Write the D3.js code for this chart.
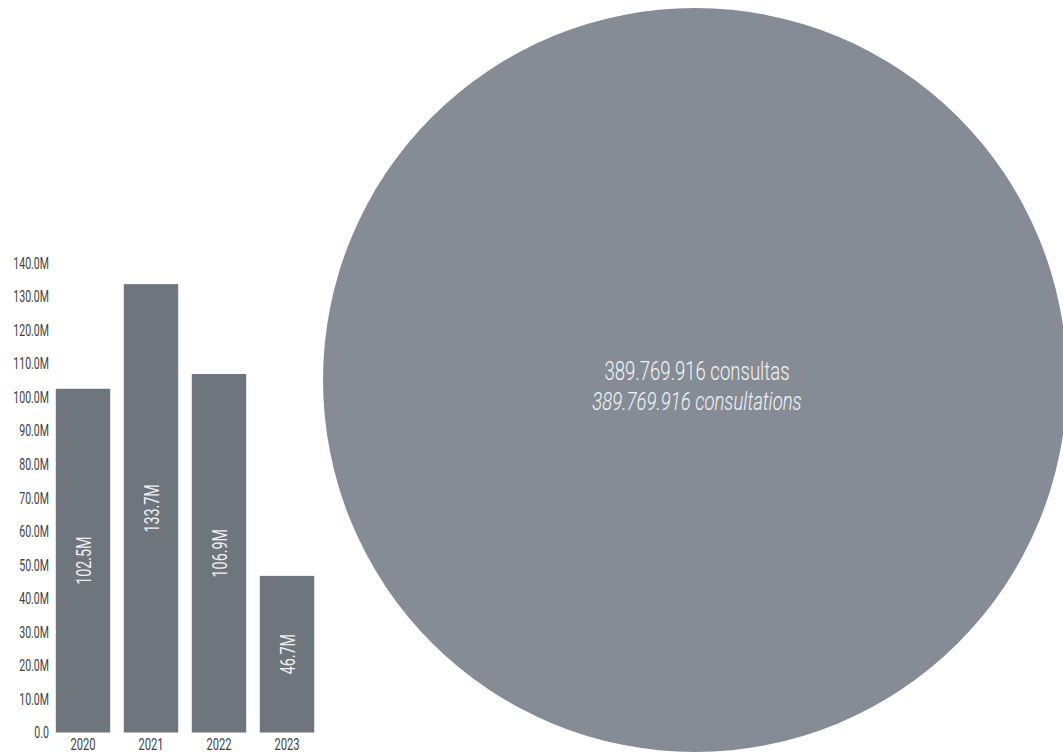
<!DOCTYPE html>
<html><head><meta charset="utf-8">
<script src="https://cdn.jsdelivr.net/npm/d3@7"></script>
<style>
html,body{margin:0;padding:0;background:#fff;}
svg{display:block;font-family:Roboto,"Liberation Sans",sans-serif;}
</style></head>
<body>
<svg id="c" width="1063" height="756"></svg>
<script>
const years = ["2020","2021","2022","2023"];
const values = [102.5, 133.7, 106.9, 46.7];
const valueLabels = ["102.5M","133.7M","106.9M","46.7M"];
const yTicks = [0,10,20,30,40,50,60,70,80,90,100,110,120,130,140];
const totalValue = [389769916];
const totalLines = ["389.769.916 consultas", "389.769.916 consultations"];

const svg = d3.select("#c");
const x = d3.scaleBand().domain(years).range([49, 321]).paddingInner(0.2).paddingOuter(0.1);
const y = d3.scaleLinear().domain([0,140]).range([732.5, 263]);

// circle
const rScale = d3.scaleSqrt().domain([0, totalValue[0]]).range([0, 372]);
const cg = svg.append("g");
cg.selectAll("circle").data(totalValue).join("circle")
  .attr("cx", 695).attr("cy", 380).attr("r", d => rScale(d)).attr("fill", "#868c95");
cg.selectAll("text").data(totalLines).join("text")
  .attr("transform", (d,i) => `translate(697,${380 + i*30}) scale(0.70,1)`)
  .attr("text-anchor","middle").attr("fill","#f3f4f6")
  .attr("font-size", 26.5).attr("font-weight", 300)
  .attr("font-style", (d,i) => i ? "italic" : "normal")
  .text(d => d);

// y axis
const ya = svg.append("g").attr("transform","translate(49,0)")
  .call(d3.axisLeft(y).tickValues(yTicks).tickSize(0).tickPadding(0)
    .tickFormat(d => d === 0 ? "0.0" : d.toFixed(1) + "M"));
ya.select(".domain").remove();
ya.selectAll("text").attr("font-size", 16.5).attr("fill","#3e4044")
  .attr("font-family","Roboto, sans-serif").attr("transform","scale(0.64,1)");

// x axis
const xa = svg.append("g").attr("transform","translate(0,733)")
  .call(d3.axisBottom(x).tickSize(0).tickPadding(5));
xa.select(".domain").remove();
xa.selectAll("text").attr("font-size", 16.5).attr("fill","#3e4044")
  .attr("font-family","Roboto, sans-serif").attr("transform","scale(0.68,1)");

// bars
svg.append("g").selectAll("rect").data(values).join("rect")
  .attr("x", (d,i) => x(years[i])).attr("width", x.bandwidth())
  .attr("y", d => y(d)).attr("height", d => y(0) - y(d))
  .attr("fill", "#6e757d");

svg.append("g").selectAll("text").data(values).join("text")
  .attr("transform", (d,i) => `translate(${x(years[i]) + x.bandwidth()/2},${(y(d)+y(0))/2}) rotate(-90) scale(0.68,1)`)
  .attr("text-anchor","middle").attr("dy","0.36em")
  .attr("fill","#eef0f2").attr("font-size", 21)
  .text((d,i) => valueLabels[i]);
</script>
</body></html>
